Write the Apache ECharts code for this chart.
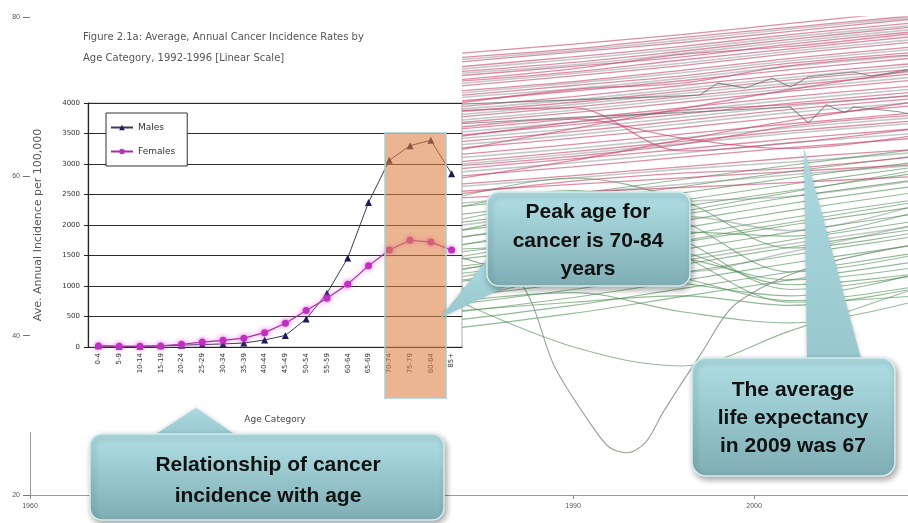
<!DOCTYPE html>
<html>
<head>
<meta charset="utf-8">
<script src="https://cdn.jsdelivr.net/npm/echarts@6/dist/echarts.min.js"></script>
<style>
  html, body { margin: 0; padding: 0; background: #fff; }
  #chart { width: 908px; height: 523px; }
</style>
</head>
<body>
<div id="chart"></div>
<script>
// background: life expectancy per country, values read at these years
var YEARS = [1983, 1990, 1996, 2002, 2009];
var PINK = [
  [75.3, 76.6, 77.8, 79.2, 80.8], [74.8, 76.0, 77.4, 78.7, 80.2], [74.2, 75.6, 76.8, 78.2, 79.8],
  [73.6, 75.0, 76.3, 77.8, 79.3], [73.0, 74.3, 75.7, 77.2, 78.8], [72.5, 73.8, 75.0, 76.6, 78.2],
  [71.8, 73.1, 74.6, 76.0, 77.6], [71.2, 72.6, 73.9, 75.4, 76.9], [70.6, 71.9, 73.3, 74.8, 76.3],
  [70.0, 71.4, 72.6, 74.2, 75.6], [69.3, 70.7, 72.0, 73.4, 74.9], [68.6, 70.0, 71.4, 72.8, 74.2],
  [68.0, 69.3, 70.7, 72.1, 73.5], [67.3, 68.7, 70.0, 71.4, 72.9], [66.6, 68.0, 69.3, 70.7, 72.1],
  [65.8, 67.2, 68.6, 70.0, 71.4], [65.0, 66.5, 67.8, 69.2, 70.6], [64.2, 65.6, 67.0, 68.4, 69.8],
  [63.4, 64.8, 66.1, 67.5, 68.9], [62.6, 64.0, 65.3, 66.6, 68.0], [61.7, 63.1, 64.4, 65.7, 67.0],
  [60.8, 62.2, 63.4, 64.7, 66.0], [59.9, 61.2, 62.4, 63.6, 64.8], [58.9, 60.1, 61.2, 62.3, 63.4],
  [58.0, 59.0, 59.8, 60.6, 61.5], [57.2, 58.0, 58.6, 59.2, 60.0], [63.0, 66.0, 68.5, 70.9, 73.4],
  [59.5, 62.0, 64.6, 67.0, 69.4], [68.2, 68.6, 63.2, 64.2, 66.0], [66.0, 67.2, 64.8, 63.5, 65.2],
  [72.0, 73.5, 75.3, 76.3, 78.0], [69.0, 70.9, 71.7, 73.9, 75.3], [64.8, 66.8, 68.3, 69.0, 70.2],
  [61.2, 62.5, 64.0, 66.3, 67.7], [57.6, 59.4, 60.4, 61.0, 62.5]
];
var GRAY = [
  [74.5, 75.8, 77.1, 78.5, 80.0], [72.8, 74.0, 75.4, 76.9, 78.5], [71.5, 72.9, 74.2, 75.7, 77.2],
  [69.8, 71.0, 72.3, 73.8, 75.2], [68.3, 69.6, 71.0, 72.4, 73.9], [66.9, 68.3, 69.7, 71.0, 72.5],
  [65.4, 66.8, 68.2, 69.6, 71.0], [63.8, 65.2, 66.6, 68.0, 69.3], [62.2, 63.5, 64.8, 66.1, 67.4],
  [60.4, 61.7, 62.9, 64.2, 65.4], [56.5, 57.8, 59.0, 60.2, 61.4], [53.6, 55.6, 56.8, 57.5, 59.5],
  [47.0, 49.2, 48.0, 50.5, 54.0], [73.3, 74.7, 76.0, 77.5, 79.0], [70.3, 71.7, 73.0, 74.5, 76.0],
  [67.6, 69.0, 70.4, 71.7, 73.2], [64.6, 66.0, 67.4, 68.8, 70.2], [61.4, 62.8, 64.1, 65.4, 66.7],
  [58.6, 59.8, 60.9, 61.8, 63.0], [52.0, 54.4, 55.0, 53.2, 56.4], [45.4, 47.3, 49.4, 51.5, 53.8]
];
var GREEN = [
  [56.0, 57.8, 59.6, 61.4, 63.4], [55.0, 56.9, 58.7, 60.6, 62.6], [54.0, 56.0, 57.9, 59.8, 61.8],
  [53.0, 55.0, 57.0, 59.0, 61.2], [52.2, 54.1, 56.2, 58.2, 60.4], [51.2, 53.2, 55.2, 57.4, 59.6],
  [50.3, 52.3, 54.4, 56.6, 58.8], [49.4, 51.4, 53.5, 55.7, 58.0], [48.5, 50.5, 52.6, 54.8, 57.1],
  [47.6, 49.6, 51.7, 53.9, 56.2], [46.6, 48.6, 50.8, 53.0, 55.3], [45.7, 47.7, 49.8, 52.0, 54.4],
  [44.7, 46.7, 48.9, 51.1, 53.4], [43.8, 45.8, 47.9, 50.1, 52.5], [42.8, 44.8, 46.9, 49.1, 51.4],
  [41.8, 43.8, 45.9, 48.0, 50.4], [40.8, 42.8, 44.9, 47.0, 49.3],
  [57.0, 59.8, 57.0, 51.0, 53.0], [55.8, 58.2, 54.4, 48.0, 50.2], [54.2, 56.6, 52.0, 45.8, 47.6],
  [52.8, 55.4, 50.0, 44.2, 45.0], [51.0, 53.2, 50.6, 46.4, 47.8], [49.6, 51.6, 49.8, 47.0, 48.6],
  [48.2, 49.4, 47.2, 44.4, 46.2], [46.8, 48.0, 46.6, 45.0, 47.8], [45.0, 38.6, 36.2, 40.6, 46.0],
  [44.2, 45.4, 43.0, 41.6, 44.4], [43.0, 44.2, 45.0, 43.8, 46.0], [50.8, 52.0, 55.5, 58.0, 60.8],
  [47.8, 51.2, 53.0, 52.5, 55.6], [44.0, 48.0, 51.8, 54.2, 56.8]
];
var RWANDA_YEARS = [1983, 1987, 1989, 1991, 1992, 1993, 1994, 1995, 1997, 1999, 2003, 2009];
var RWANDA = [50.2, 46.8, 36.0, 28.8, 26.0, 25.3, 26.6, 30.5, 37.5, 44.0, 48.5, 51.5];
var ZIG1_YEARS = [1983, 1990, 1995, 1997, 1998, 1999.5, 2001, 2002, 2003, 2005.5, 2006.5, 2009];
var ZIG1 = [69.0, 69.6, 70.0, 70.2, 71.7, 71.1, 72.3, 71.2, 72.5, 73.1, 72.6, 73.6];
var ZIG2_YEARS = [1983, 1990, 1996, 2002, 2003, 2004, 2005, 2005.5, 2008, 2009];
var ZIG2 = [66.5, 67.4, 68.0, 68.7, 66.7, 69.0, 68.0, 68.7, 68.1, 67.6];

// inset: cancer incidence by age
var AGE_CATS = ['0-4', '5-9', '10-14', '15-19', '20-24', '25-29', '30-34', '35-39', '40-44',
  '45-49', '50-54', '55-59', '60-64', '65-69', '70-74', '75-79', '80-84', '85+'];
var MALES = [20, 12, 12, 20, 30, 40, 50, 65, 115, 190, 460, 880, 1460, 2370, 3060, 3300, 3390, 2840];
var FEMALES = [18, 12, 12, 18, 45, 80, 110, 145, 235, 390, 600, 800, 1030, 1330, 1590, 1750, 1720, 1590];

var chart = echarts.init(document.getElementById('chart'));

function bgLine(years, vals, color, width, smooth) {
  return {
    type: 'line', xAxisIndex: 0, yAxisIndex: 0, silent: true,
    data: years.map(function (y, i) { return [y, vals[i]]; }),
    symbol: 'none', smooth: smooth, z: 2,
    lineStyle: { color: color, width: width }
  };
}

var series = [];
GRAY.forEach(function (v) { series.push(bgLine(YEARS, v, 'rgba(125,138,135,0.45)', 1.6, 0.35)); });
GREEN.forEach(function (v) { series.push(bgLine(YEARS, v, 'rgba(75,140,80,0.6)', 1.1, 0.35)); });
PINK.forEach(function (v) { series.push(bgLine(YEARS, v, 'rgba(200,65,105,0.6)', 1.3, 0.35)); });
series.push(bgLine(RWANDA_YEARS, RWANDA, 'rgba(120,140,120,0.8)', 1.1, 0.3));
series.push(bgLine(ZIG1_YEARS, ZIG1, 'rgba(100,105,105,0.7)', 1.1, false));
series.push(bgLine(ZIG2_YEARS, ZIG2, 'rgba(100,105,105,0.7)', 1.1, false));

series.push({
  name: 'Males', type: 'line', xAxisIndex: 1, yAxisIndex: 2, data: MALES, z: 12,
  symbol: 'triangle', symbolSize: 7,
  lineStyle: { color: '#3a3a5c', width: 1 },
  itemStyle: { color: '#1b1b55' }
});
series.push({
  name: 'Females', type: 'line', xAxisIndex: 1, yAxisIndex: 2, data: FEMALES, z: 12,
  symbol: 'circle', symbolSize: 7,
  lineStyle: { color: '#a0309a', width: 1.2, shadowBlur: 5, shadowColor: 'rgba(230,80,230,0.9)' },
  itemStyle: { color: '#c030c0', shadowBlur: 5, shadowColor: 'rgba(230,80,230,0.9)' }
});

var calloutFill = {
  type: 'linear', x: 0, y: 0, x2: 0, y2: 1,
  colorStops: [{ offset: 0, color: '#b0dfe5' }, { offset: 1, color: '#7eadb3' }]
};
var pointerFill = {
  type: 'linear', x: 0, y: 0, x2: 0, y2: 1,
  colorStops: [{ offset: 0, color: '#aad9df' }, { offset: 1, color: '#98c7ce' }]
};
var boxStyle = {
  fill: calloutFill, stroke: '#d3edf0', lineWidth: 1.5,
  shadowBlur: 6, shadowColor: 'rgba(0,0,0,0.35)', shadowOffsetX: 2, shadowOffsetY: 3
};
var calloutFont = { fontSize: 21, fontWeight: 'bold', fontFamily: '"Liberation Sans", Arial, sans-serif' };

function callout(box, pts, text, cx, cy, lh) {
  return [
    { type: 'polygon', z: 30, shape: { points: pts }, style: { fill: pointerFill, shadowBlur: 4, shadowColor: 'rgba(0,0,0,0.2)' } },
    { type: 'rect', z: 31, shape: box, style: boxStyle },
    { type: 'text', z: 32, x: cx, y: cy, style: Object.assign({
        text: text, fill: '#111', align: 'center', verticalAlign: 'middle', lineHeight: lh
      }, calloutFont) }
  ];
}

var graphics = [
  // inset picture area covering the left of the background chart
  { type: 'rect', z: 5, shape: { x: 28, y: 0, width: 434, height: 432 }, style: { fill: '#fff' } },
  // highlighted 70-84 band
  { type: 'rect', z: 20, shape: { x: 385, y: 133, width: 61, height: 265 },
    style: { fill: 'rgba(222,128,66,0.58)', stroke: '#9fd0d6', lineWidth: 1.5 } }
];
graphics = graphics
  .concat(callout({ x: 487, y: 192, width: 203, height: 94, r: 12 },
    [[490, 256], [514, 283], [440, 318]], 'Peak age for\ncancer is 70-84\nyears', 588, 241, 28.5))
  .concat(callout({ x: 692, y: 358, width: 203, height: 118, r: 14 },
    [[807, 362], [862, 362], [804, 148]], 'The average\nlife expectancy\nin 2009 was 67', 793, 418, 28))
  .concat(callout({ x: 90, y: 434, width: 354, height: 86, r: 12 },
    [[150, 438], [240, 438], [196, 408]], 'Relationship of cancer\nincidence with age', 268, 481, 31));

var option = {
  animation: false,
  title: {
    text: 'Figure 2.1a: Average, Annual Cancer Incidence Rates by\nAge Category, 1992-1996 [Linear Scale]',
    left: 78, top: 22, z: 15,
    textStyle: { fontSize: 10, fontWeight: 'normal', color: '#555', lineHeight: 21, fontFamily: 'DejaVu Sans' }
  },
  legend: {
    data: ['Males', 'Females'], orient: 'vertical', left: 106, top: 113, z: 15,
    backgroundColor: '#fff', borderColor: '#333', borderWidth: 1, padding: [10, 12, 10, 4],
    itemWidth: 22, itemHeight: 7, itemGap: 15,
    textStyle: { fontSize: 9, color: '#333', fontFamily: 'DejaVu Sans' }
  },
  grid: [
    { left: 30, right: 0, top: 17, bottom: 28 },
    { left: 88, right: 446, top: 103, bottom: 176, show: true, z: 9,
      backgroundColor: '#fff', borderColor: '#aaa', borderWidth: 1 }
  ],
  xAxis: [
    { gridIndex: 0, type: 'value', min: 1960, max: 2008.5, interval: 10, z: 3,
      axisLine: { lineStyle: { color: '#9a9a9a' } },
      axisTick: { length: 4, lineStyle: { color: '#888' } },
      splitLine: { show: false },
      axisLabel: { fontSize: 7, color: '#555', margin: 8, showMaxLabel: false,
        formatter: function (v) { return String(v); } } },
    { gridIndex: 1, type: 'category', data: AGE_CATS, z: 10,
      axisLine: { lineStyle: { color: '#222', width: 1.2 } },
      axisTick: { length: 3, lineStyle: { color: '#444' } },
      axisLabel: { rotate: 90, interval: 0, fontSize: 7, color: '#333', margin: 6, fontFamily: 'DejaVu Sans' },
      name: 'Age Category', nameLocation: 'middle', nameGap: 68,
      nameTextStyle: { fontSize: 9, color: '#444', fontFamily: 'DejaVu Sans' } }
  ],
  yAxis: [
    { gridIndex: 0, type: 'value', min: 20, max: 80, interval: 20, z: 40,
      axisLine: { show: false },
      axisTick: { show: true, length: 7, lineStyle: { color: '#777' } },
      splitLine: { show: false },
      axisLabel: { fontSize: 7, color: '#555', margin: 10 } },
    { gridIndex: 0, type: 'value', position: 'left', min: 20, max: 80, interval: 20, z: 1,
      axisLine: { show: true, lineStyle: { color: '#9a9a9a' } },
      axisTick: { show: false }, axisLabel: { show: false }, splitLine: { show: false } },
    { gridIndex: 1, type: 'value', min: 0, max: 4000, interval: 500, z: 10,
      axisLine: { show: true, lineStyle: { color: '#222', width: 1.2 } },
      axisTick: { show: true, length: 4, lineStyle: { color: '#222' } },
      splitLine: { lineStyle: { color: '#2b2b2b', width: 1.2 } },
      axisLabel: { fontSize: 7, color: '#333', margin: 8, fontFamily: 'DejaVu Sans',
        formatter: function (v) { return String(v); } },
      name: 'Ave. Annual Incidence per 100,000', nameLocation: 'middle', nameRotate: 90, nameGap: 44,
      nameTextStyle: { fontSize: 11, color: '#555', fontFamily: 'DejaVu Sans' } }
  ],
  graphic: graphics,
  series: series
};

chart.setOption(option);
window.addEventListener('resize', function () { chart.resize(); });
</script>
</body>
</html>
